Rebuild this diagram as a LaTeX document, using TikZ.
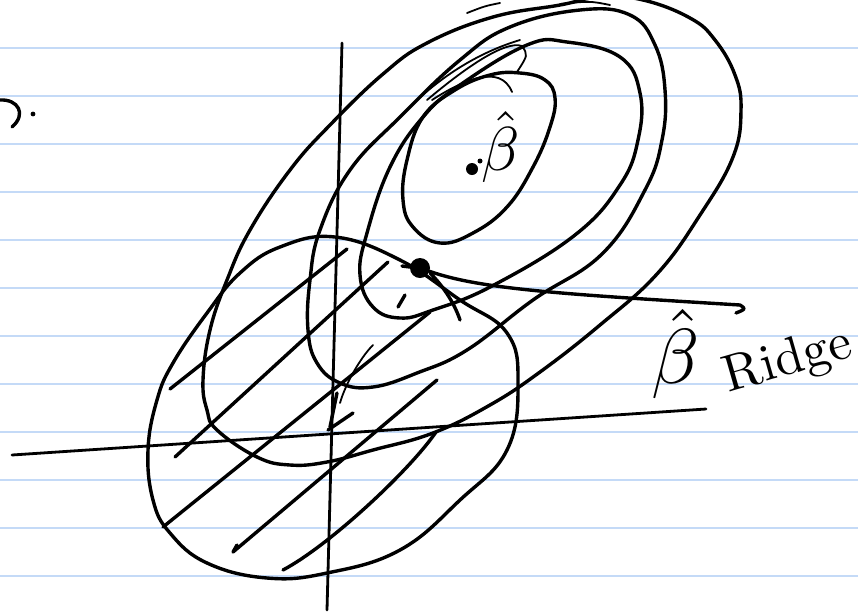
\documentclass[tikz,border=0pt]{standalone}
\usepackage{amsmath,amssymb}
\usepackage{graphicx}
\usepackage{tikz}
\usepackage{xcolor}
\definecolor{ruleblue}{RGB}{196,218,247}
\newcommand{\bighat}[1]{\scalebox{#1}{$\hat{\beta}$}}
\tikzset{
  ink/.style={line width=3.4pt, line cap=round, line join=round, black},
  sketchy/.style={line width=1.8pt, line cap=round, black},
  axisline/.style={line width=2.8pt, line cap=round, black},
  ruled/.style={ruleblue, line width=1.7pt},
  dotnode/.style={circle, fill=black, inner sep=0pt},
  betatext/.style={inner sep=0pt},
}
\begin{document}
\begin{tikzpicture}[x=1pt,y=-1pt]
  \useasboundingbox (0,0) rectangle (858,614);
  \clip (0,0) rectangle (858,614);
  \fill[white] (0,0) rectangle (858,614);
  % ruled paper
  \foreach \k in {0,...,11} \draw[ruled] (0,47.8+48*\k) -- (858,47.8+48*\k);
  % fragment at the left edge
  \draw[ink] (0,100) .. controls (18,99) and (27,114) .. (12,127); \fill (33,114) circle (2.4pt);
  % axes
  \coordinate (yaxtop) at (342,43); \coordinate (yaxbot) at (327,610);
  \coordinate (xaxleft) at (12,455); \coordinate (xaxright) at (706,409);
  \draw[axisline] (yaxbot) -- (yaxtop); \draw[axisline] (xaxleft) -- (xaxright);
  % loss contours
  \draw[ink] plot[smooth cycle, tension=0.7] coordinates {(217,430) (257,457) (290,465) (327,462) (373,450) (433,433) (490,405) (540,372) (600,325) (657,274) (700,215) (733,157) (741,110) (735,75) (715,40) (690,18) (643,0) (600,-3) (560,5) (493,17) (427,43) (383,74) (330,125) (290,170) (250,230) (227,280) (210,330) (203,380) (207,410)};
  \draw[ink] plot[smooth cycle, tension=0.7] coordinates {(320,230) (310,280) (308,330) (317,363) (340,383) (373,387) (417,373) (467,350) (533,300) (602,254) (645,190) (662,140) (665,90) (655,45) (630,15) (580,10) (510,27) (460,60) (400,117) (350,170)};
  \draw[ink] plot[smooth cycle, tension=0.7] coordinates {(360,275) (373,307) (400,318) (433,310) (492,286) (575,235) (620,185) (638,140) (640,93) (620,57) (567,42) (527,45) (460,85) (423,117) (390,167) (367,233)};
  \draw[ink] plot[smooth cycle, tension=0.7] coordinates {(423,117) (407,160) (403,200) (413,227) (440,243) (473,233) (507,207) (533,167) (550,127) (555,98) (545,80) (520,73) (490,75) (455,90)};
  % extra strokes at the top
  \draw[sketchy] (400,117) .. controls (430,85) and (470,55) .. (520,40);
  \draw[sketchy] (427,100) .. controls (465,68) and (505,40) .. (522,46) .. controls (528,55) .. (517,72);
  \draw[sketchy] (432,100) .. controls (460,82) and (500,62) .. (512,92);
  \draw[sketchy] (467,13) .. controls (485,6) .. (500,3);
  \draw[sketchy] (560,4) .. controls (590,1) .. (610,5);
  % constraint region
  \draw[ink] plot[smooth cycle, tension=0.7] coordinates {(335,237) (400,260) (460,300) (507,333) (518,383) (507,450) (460,500) (400,550) (327,573) (267,578) (207,563) (170,533) (153,500) (148,450) (157,400) (173,363) (207,313) (240,273) (280,247)};
  % hatching
  \draw[ink] (170,389) -- (347,249);
  \draw[ink] (175,457) -- (388,262);
  \draw[ink] (163,527) -- (430,312);
  \draw[ink] (237,545) -- (233,552) -- (437,380);
  \draw[ink] (283,570) .. controls (330,545) and (410,470) .. (436,432);
  % small marks
  \draw[sketchy] (373,345) .. controls (360,358) and (345,385) .. (340,403);
  \draw[ink] (337,393) -- (330,427);
  \draw[ink] (353,413) -- (328,430);
  \draw[ink] (402,266) -- (410,267);
  \draw[ink] (398,307) -- (405,295);
  \draw[ink] (430,273) .. controls (445,288) and (455,305) .. (460,320);
  % estimates
  \node[dotnode, minimum size=12pt] (olsdot) at (472,169) {};
  \node[dotnode, minimum size=5pt] (olsdotb) at (480,161) {};
  \node[betatext] (olslabel) at (501,147) {\bighat{6.2}};
  \node[dotnode, minimum size=20pt] (ridgedot) at (420,268) {};
  \coordinate (hooktip) at (740,305); \coordinate (hookend) at (736,313);
  \draw[ink] (ridgedot) .. controls (480,289) and (560,294) .. (hooktip) .. controls (746,309) .. (hookend);
  \node[betatext] (ridgebeta) at (676,354) {\bighat{7.8}};
  \node[inner sep=0pt, rotate=16] (ridgesub) at (788,362) {\scalebox{5.2}{Ridge}};
\end{tikzpicture}
\end{document}
